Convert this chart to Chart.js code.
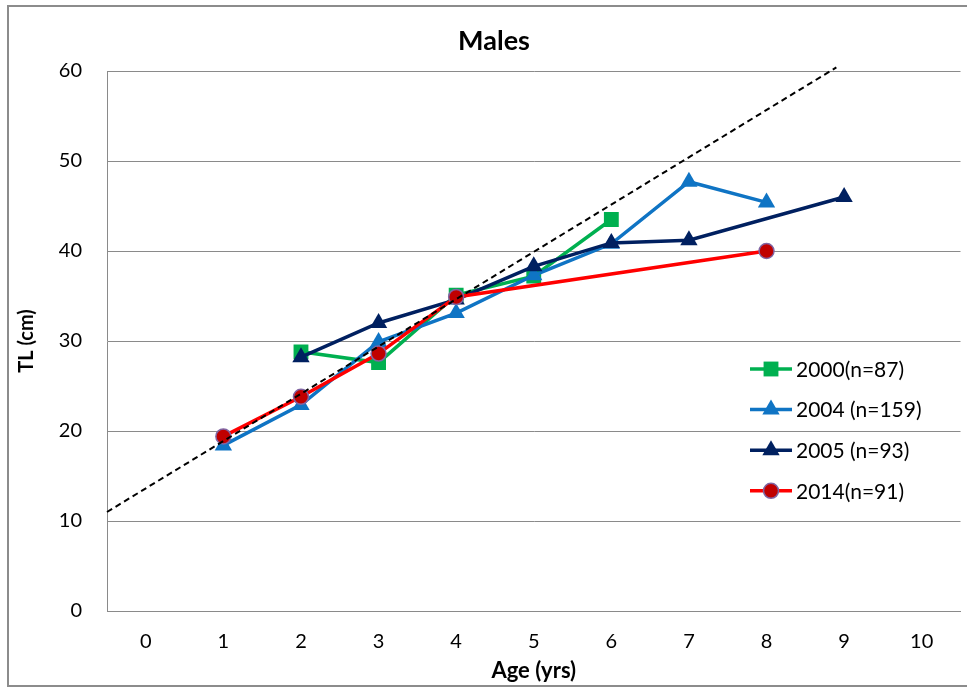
<!DOCTYPE html>
<html>
<head>
<meta charset="utf-8">
<title>Males</title>
<script src="https://cdn.jsdelivr.net/npm/chart.js@4.4.1/dist/chart.umd.min.js"></script>
<style>
  html, body { margin: 0; padding: 0; background: #fff; overflow: hidden; }
  #wrap { width: 967px; height: 688px; overflow: hidden; }
</style>
</head>
<body>
<div id="wrap"><canvas id="growth" width="971" height="688"></canvas></div>
<script>
// age ticks and TL ticks
var ageTicks = [0, 1, 2, 3, 4, 5, 6, 7, 8, 9, 10];
var tlTicks = [0, 10, 20, 30, 40, 50, 60];

// mean TL at age, per sampling year
var age2000 = [2, 3, 4, 5, 6];
var tl2000 = [28.8, 27.6, 35.1, 37.2, 43.5];

var age2004 = [1, 2, 3, 4, 5, 6, 7, 8];
var tl2004 = [18.4, 22.9, 29.9, 33.1, 37.3, 40.8, 47.7, 45.4];

var age2005 = [2, 3, 4, 5, 6, 7, 9];
var tl2005 = [28.2, 32.0, 34.6, 38.3, 40.9, 41.2, 46.0];

var age2014 = [1, 2, 3, 4, 8];
var tl2014 = [19.4, 23.8, 28.6, 34.9, 40.0];

// reference line (dashed)
var refAge = [-0.5, 8.9];
var refTL = [11.0, 60.4];

var seriesLabels = ['2000(n=87)', '2004 (n=159)', '2005 (n=93)', '2014(n=91)'];

var FONT = 'Lato, "Liberation Sans", sans-serif';
var GRID = '#8a8a8a';

function pts(xs, ys) {
    var out = [];
    for (var i = 0; i < xs.length; i++) out.push({ x: xs[i], y: ys[i] });
    return out;
}

var datasets = [
    {
        label: seriesLabels[0], data: pts(age2000, tl2000), order: 4,
        borderColor: '#00b050', backgroundColor: '#00b050', borderWidth: 3.5,
        pointStyle: 'rect', pointRadius: 10.5, pointBorderWidth: 0
    },
    {
        label: seriesLabels[1], data: pts(age2004, tl2004), order: 3,
        borderColor: '#0f74c4', backgroundColor: '#0f74c4', borderWidth: 3.5,
        pointStyle: 'triangle', pointRadius: 10, pointBorderWidth: 0
    },
    {
        label: seriesLabels[2], data: pts(age2005, tl2005), order: 2,
        borderColor: '#002060', backgroundColor: '#002060', borderWidth: 3.5,
        pointStyle: 'triangle', pointRadius: 10, pointBorderWidth: 0
    },
    {
        label: seriesLabels[3], data: pts(age2014, tl2014), order: 1,
        borderColor: '#ff0000', backgroundColor: '#c00000', borderWidth: 3.5,
        pointStyle: 'circle', pointRadius: 7.5, pointBorderWidth: 1.5,
        pointBorderColor: '#8064a2'
    },
    {
        label: 'ref', data: pts(refAge, refTL), order: 0, clip: false,
        borderColor: '#000', borderWidth: 2, borderDash: [6, 4],
        pointRadius: 0
    }
];

// title, frame and in-plot legend
var decor = {
    id: 'decor',
    afterDraw: function (chart) {
        var ctx = chart.ctx;
        ctx.save();
        ctx.strokeStyle = '#8c8c8c';
        ctx.lineWidth = 2;
        ctx.beginPath();
        ctx.moveTo(975, 6);
        ctx.lineTo(8, 6);
        ctx.lineTo(8, 686);
        ctx.lineTo(975, 686);
        ctx.stroke();

        ctx.fillStyle = '#000';
        ctx.font = 'bold 27px ' + FONT;
        ctx.textAlign = 'center';
        ctx.textBaseline = 'middle';
        ctx.fillText('Males', 494, 41);

        ctx.font = '21px ' + FONT;
        ctx.textAlign = 'left';
        for (var i = 0; i < 4; i++) {
            var ds = chart.data.datasets[i];
            var y = 369 + i * 40.6;
            ctx.strokeStyle = ds.borderColor;
            ctx.lineWidth = 3.5;
            ctx.setLineDash([]);
            ctx.beginPath();
            ctx.moveTo(750, y);
            ctx.lineTo(792, y);
            ctx.stroke();
            ctx.fillStyle = ds.backgroundColor;
            ctx.strokeStyle = ds.pointBorderColor || ds.backgroundColor;
            ctx.lineWidth = ds.pointBorderWidth;
            Chart.helpers.drawPoint(ctx, {
                pointStyle: ds.pointStyle, radius: ds.pointRadius,
                rotation: 0, borderWidth: ds.pointBorderWidth
            }, 771, y);
            ctx.fillStyle = '#000';
            ctx.fillText(ds.label, 796, y + 1);
        }
        ctx.restore();
    }
};

new Chart(document.getElementById('growth'), {
    type: 'line',
    data: { datasets: datasets },
    options: {
        responsive: false,
        animation: false,
        layout: { padding: { left: 8, top: 71, right: 0, bottom: 0 } },
        plugins: {
            legend: { display: false },
            tooltip: { enabled: false },
            title: { display: false }
        },
        scales: {
            x: {
                type: 'linear', min: -0.5, max: 10.5,
                afterBuildTicks: function (s) {
                    s.ticks = ageTicks.map(function (v) { return { value: v }; });
                },
                afterFit: function (s) { s.height = 77; },
                grid: { display: false },
                border: { display: true, color: GRID, width: 1 },
                ticks: { color: '#000', padding: 11, maxRotation: 0, font: { family: FONT, size: 20 } },
                title: {
                    display: true, text: 'Age (yrs)', color: '#000',
                    font: { family: FONT, size: 22, weight: 'bold' }, padding: { top: 0, bottom: 4 }
                }
            },
            y: {
                min: 0, max: 60,
                afterBuildTicks: function (s) {
                    s.ticks = tlTicks.map(function (v) { return { value: v }; });
                },
                afterFit: function (s) { s.width = 99; },
                grid: { color: GRID, lineWidth: 1, drawTicks: false },
                border: { display: true, color: GRID, width: 1 },
                ticks: { color: '#000', padding: 25, font: { family: FONT, size: 20 } },
                title: {
                    display: true, text: 'TL (cm)', color: '#000',
                    font: { family: FONT, size: 20, weight: 'bold' }, padding: { top: 7, bottom: 0 }
                }
            }
        }
    },
    plugins: [decor]
});
</script>
</body>
</html>
